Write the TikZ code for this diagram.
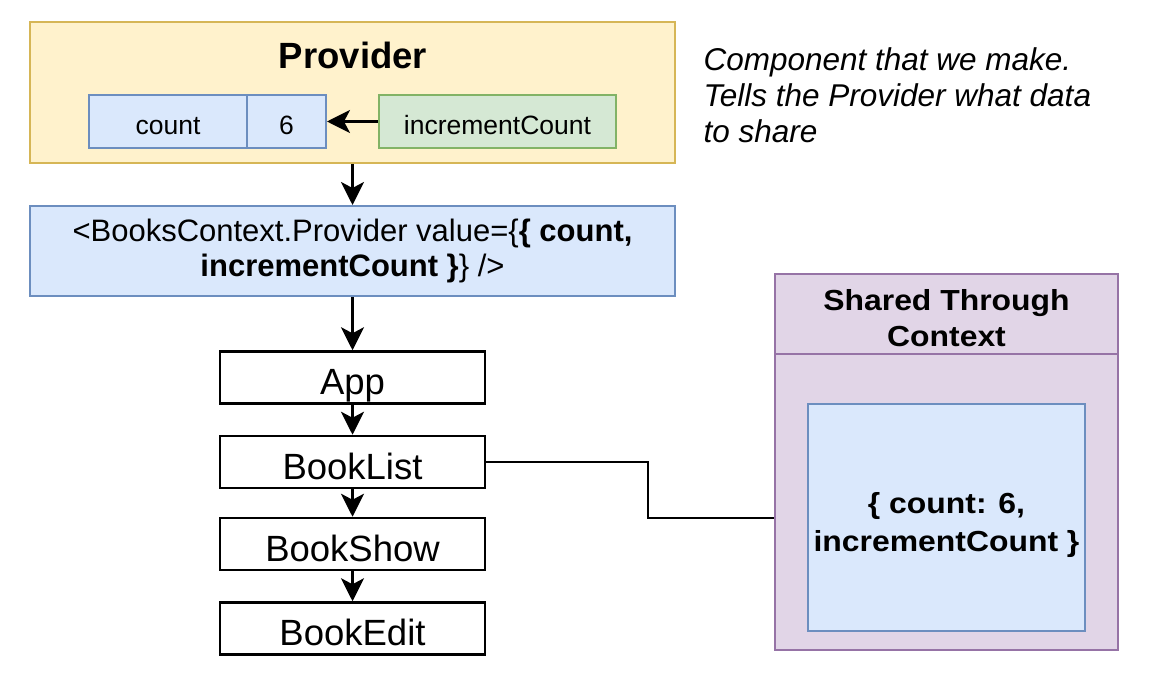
\documentclass[tikz,border=0pt]{standalone}
\usepackage{fontspec}
\setmainfont{Liberation Sans}
\newfontfamily\widefont[FakeStretch=1.1]{Liberation Sans}
\usetikzlibrary{arrows.meta,positioning}
\definecolor{provfill}{HTML}{FFF2CC}
\definecolor{provline}{HTML}{D6B656}
\definecolor{bluefill}{HTML}{DAE8FC}
\definecolor{blueline}{HTML}{6C8EBF}
\definecolor{greenfill}{HTML}{D5E8D4}
\definecolor{greenline}{HTML}{82B366}
\definecolor{purpfill}{HTML}{E1D5E7}
\definecolor{purpline}{HTML}{9673A6}
\newcommand{\fsz}[2]{\fontsize{#1}{#2}\selectfont}
\begin{document}
\begin{tikzpicture}[x=1pt,y=-1pt,
    cell/.style={draw=blueline,fill=bluefill,line width=2pt,inner sep=0pt,font=\fsz{26.5}{32}},
    low/.style={text height=27pt,text depth=0pt},
    comp/.style={draw=black,fill=white,line width=2.5pt,inner sep=0pt,text height=34pt,text depth=0pt,
      minimum width=265pt,minimum height=52pt,font=\fsz{36.5}{40}},
    arr/.style={-{Stealth[length=23pt,width=23pt,inset=6pt]},line width=2.5pt}]
  \useasboundingbox (0,0) rectangle (1168,674);
  % provider component
  \node[draw=provline,fill=provfill,line width=2pt,minimum width=645pt,minimum height=141pt] (prov) at (352.5,92.5) {};
  \node[font=\bfseries\fsz{36.5}{40}] (provtitle) at (353,55) {Provider};
  \node[cell,low,minimum width=158pt,minimum height=53pt] (count) at (168,121.5) {count};
  \node[cell,low,minimum width=79pt,minimum height=53pt] (six) at (286.5,121.5) {6};
  \node[cell,low,draw=greenline,fill=greenfill,minimum width=237pt,minimum height=53pt] (inc) at (497.5,121.5) {incrementCount};
  \node[anchor=north west,align=left,font=\itshape\fsz{31.5}{36}] (note) at (700,44)
    {Component that we make.\\Tells the Provider what data\\to share};
  % context provider
  \node[cell,minimum width=645pt,minimum height=90pt,align=center,font=\fsz{31}{35}] (ctx) at (352.5,251)
    {<BooksContext.Provider value=\{\textbf{\{ count,}\\\textbf{incrementCount \}}\} />};
  % component tree
  \node[comp] (app) at (352.5,377.5) {App};
  \node[comp] (booklist) at (352.5,462) {BookList};
  \node[comp] (bookshow) at (352.5,544) {BookShow};
  \node[comp] (bookedit) at (352.5,628.5) {BookEdit};
  % shared box
  \node[draw=purpline,fill=purpfill,line width=2pt,minimum width=343pt,minimum height=376pt] (shared) at (946.5,462) {};
  \draw[purpline,line width=2pt] (shared.west |- 0,354) -- (shared.east |- 0,354);
  \node[align=center,font=\widefont\bfseries\fsz{29}{36}] (sharedtitle) at (946.5,318) {Shared Through\\Context};
  \node[cell,minimum width=277pt,minimum height=227pt] (value) at (946.5,517.5) {};
  \node[align=center,font=\widefont\bfseries\fsz{29}{38}] (valuetext) at (946.5,525)
    {\{ count: 6,\\incrementCount \}};
  % connectors
  \draw[arr] (inc.west) -- (six.east);
  \draw[arr] (prov.south) -- (ctx.north);
  \draw[arr] (ctx.south) -- (app.north);
  \draw[arr] (app.south) -- (booklist.north);
  \draw[arr] (booklist.south) -- (bookshow.north);
  \draw[arr] (bookshow.south) -- (bookedit.north);
  \draw[line width=2pt] (booklist.east) -- ++(162,0) |- (shared.west |- value.center);
\end{tikzpicture}
\end{document}
